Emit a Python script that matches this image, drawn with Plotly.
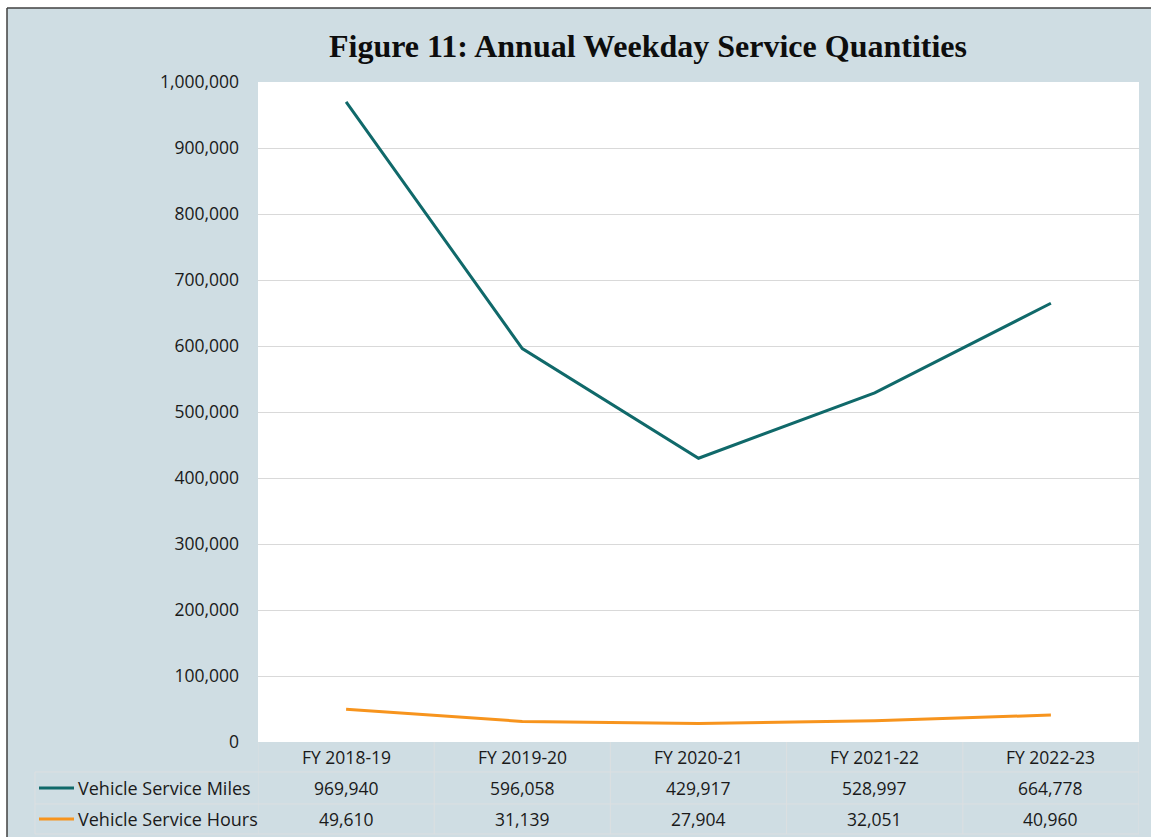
import plotly.graph_objects as go

categories = ["FY 2018-19", "FY 2019-20", "FY 2020-21", "FY 2021-22", "FY 2022-23"]
series_names = ["Vehicle Service Miles", "Vehicle Service Hours"]
miles = [969940, 596058, 429917, 528997, 664778]
hours = [49610, 31139, 27904, 32051, 40960]
y_ticks = [0, 100000, 200000, 300000, 400000, 500000, 600000, 700000, 800000, 900000, 1000000]
title_text = "Figure 11: Annual Weekday Service Quantities"

W, H = 1151, 837
L, R, T, B = 258, 12, 82, 95
PW, PH = W - L - R, H - T - B
BG = "#CFDDE3"
GRID = "#D9D9D9"
TBL = "#DCDFE1"
COLORS = ["#10696A", "#F7941D"]
FONT = "Open Sans"
FS = 17.5


def px(x):
    return (x - L) / PW


def py(y):
    return (H - B - y) / PH


fig = go.Figure()
for name, vals, col in zip(series_names, [miles, hours], COLORS):
    fig.add_trace(go.Scatter(x=categories, y=vals, mode="lines", name=name,
                             line=dict(color=col, width=3), showlegend=False))

shapes = []
# white outer margins and dark border
shapes.append(dict(type="rect", xref="paper", yref="paper", x0=px(-5), x1=px(7), y0=py(-5), y1=py(H + 5),
                   fillcolor="white", line=dict(width=0), layer="below"))
shapes.append(dict(type="rect", xref="paper", yref="paper", x0=px(-5), x1=px(W + 5), y0=py(8), y1=py(-5),
                   fillcolor="white", line=dict(width=0), layer="below"))
shapes.append(dict(type="line", xref="paper", yref="paper", x0=px(7), x1=px(7), y0=py(8), y1=py(H + 5),
                   line=dict(color="#404040", width=1.5)))
shapes.append(dict(type="line", xref="paper", yref="paper", x0=px(7), x1=px(W + 5), y0=py(8), y1=py(8),
                   line=dict(color="#404040", width=1.5)))

# data table grid
row_top, row1, row2, row_bot = 742, 772, 804, 834
n = len(categories)
for i in range(n + 1):
    shapes.append(dict(type="line", xref="x", yref="paper", x0=i - 0.5, x1=i - 0.5,
                       y0=py(row_top), y1=py(row_bot), line=dict(color=TBL, width=1)))
for yy in [row1, row2, row_bot]:
    shapes.append(dict(type="line", xref="paper", yref="paper", x0=px(35), x1=1,
                       y0=py(yy), y1=py(yy), line=dict(color=TBL, width=1)))
shapes.append(dict(type="line", xref="paper", yref="paper", x0=px(35), x1=px(35),
                   y0=py(row1), y1=py(row_bot), line=dict(color=TBL, width=1)))

annotations = []
row_centers = [757, 788, 819]
for c in categories:
    annotations.append(dict(x=c, xref="x", y=py(row_centers[0]), yref="paper", text=c, showarrow=False,
                            xanchor="center", yanchor="middle", font=dict(family=FONT, size=FS, color="#1a1a1a")))
for r, (name, vals, col) in enumerate(zip(series_names, [miles, hours], COLORS)):
    yc = row_centers[r + 1]
    shapes.append(dict(type="line", xref="paper", yref="paper", x0=px(39), x1=px(74), y0=py(yc), y1=py(yc),
                       line=dict(color=col, width=3)))
    annotations.append(dict(x=px(76), xref="paper", y=py(yc), yref="paper", text=name, showarrow=False,
                            xanchor="left", yanchor="middle", font=dict(family=FONT, size=FS + 0.5, color="#1a1a1a")))
    for c, v in zip(categories, vals):
        annotations.append(dict(x=c, xref="x", y=py(yc), yref="paper", text=f"{v:,}", showarrow=False,
                                xanchor="center", yanchor="middle", font=dict(family=FONT, size=FS, color="#1a1a1a")))

annotations.append(dict(x=px(648), xref="paper", y=py(46), yref="paper", text=f"<b>{title_text}</b>",
                        showarrow=False, xanchor="center", yanchor="middle",
                        font=dict(family="Liberation Serif", size=32, color="#0d0d0d")))

fig.update_layout(
    width=W, height=H,
    margin=dict(l=L, r=R, t=T, b=B, pad=0),
    paper_bgcolor=BG, plot_bgcolor="white",
    shapes=shapes, annotations=annotations,
    xaxis=dict(type="category", range=[-0.5, n - 0.5], showgrid=False, showticklabels=False,
               zeroline=False, showline=False, ticks=""),
    yaxis=dict(range=[0, 1000000], tickvals=y_ticks, tickformat=",", showgrid=True, gridcolor=GRID,
               gridwidth=1, zeroline=False, showline=False, ticks="", ticklabelstandoff=18,
               tickfont=dict(family=FONT, size=FS, color="#1a1a1a")),
)

fig.write_html("out.html")
